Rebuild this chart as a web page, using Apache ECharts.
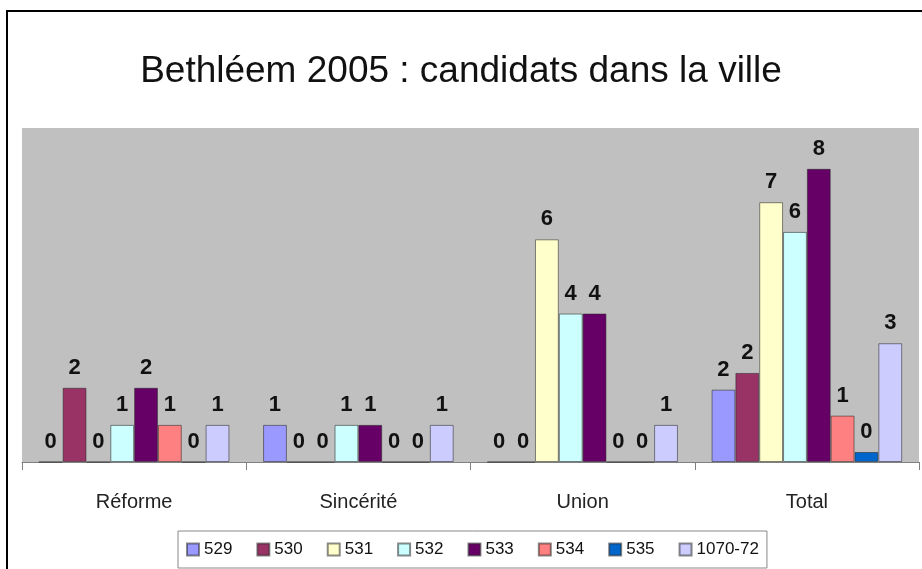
<!DOCTYPE html>
<html>
<head>
<meta charset="utf-8" />
<title>Bethléem 2005 : candidats dans la ville</title>
<style>
    html, body { margin: 0; padding: 0; background: #fff; }
    #frame { position: absolute; left: 6px; top: 10px; width: 930px; height: 580px;
             border-left: 2px solid #000; border-top: 2px solid #000; }
    #main { position: absolute; left: 0; top: 0; width: 922px; height: 569px; }
</style>
<script src="https://cdn.jsdelivr.net/npm/echarts@6/dist/echarts.min.js"></script>
</head>
<body>
<div id="frame"></div>
<div id="main"></div>
<script type="text/javascript">
    // catégories (axe x)
    var categories = ['Réforme', 'Sincérité', 'Union', 'Total'];

    // une série par bureau
    var seriesNames = ['529', '530', '531', '532', '533', '534', '535', '1070-72'];
    var v529 = [0, 1, 0, 1.95];
    var v530 = [2, 0, 0, 2.4];
    var v531 = [0, 0, 6, 7];
    var v532 = [1, 1, 4, 6.2];
    var v533 = [2, 1, 4, 7.9];
    var v534 = [1, 0, 0, 1.25];
    var v535 = [0, 0, 0, 0.27];
    var v1070 = [1, 1, 1, 3.2];
    var seriesValues = [v529, v530, v531, v532, v533, v534, v535, v1070];

    var colors = ['#9999FF', '#993366', '#FFFFCC', '#CCFFFF', '#660066', '#FF8080', '#0066CC', '#CCCCFF'];

    var myChart = echarts.init(document.getElementById('main'));

    var series = [];
    for (var i = 0; i < seriesNames.length; i++) {
        series.push({
            name: seriesNames[i],
            type: 'bar',
            barGap: 0,
            barCategoryGap: '15%',
            data: seriesValues[i],
            itemStyle: { color: colors[i], borderColor: 'rgba(40,40,40,0.55)', borderWidth: 1 },
            label: {
                show: true,
                position: 'top',
                distance: 9,
                color: '#111',
                fontFamily: 'Liberation Sans',
                fontWeight: 'bold',
                fontSize: 22,
                formatter: function (p) { return Math.round(p.value); }
            }
        });
    }

    var option = {
        animation: false,
        backgroundColor: 'transparent',
        color: colors,
        title: {
            text: 'Bethléem 2005 : candidats dans la ville',
            left: 'center',
            top: 48,
            textStyle: { fontFamily: 'Liberation Sans', fontWeight: 'normal', fontSize: 37, color: '#111' }
        },
        legend: {
            data: seriesNames,
            bottom: 1,
            left: 178,
            icon: 'rect',
            itemWidth: 12,
            itemHeight: 12,
            itemGap: 24,
            padding: [10, 8],
            borderColor: '#888',
            borderWidth: 1,
            textStyle: { fontFamily: 'Liberation Sans', fontSize: 17, color: '#111' }
        },
        grid: {
            left: 22,
            right: 3,
            top: 128,
            bottom: 107,
            show: true,
            backgroundColor: '#C0C0C0',
            borderWidth: 0
        },
        xAxis: {
            type: 'category',
            data: categories,
            axisLine: { lineStyle: { color: '#808080', width: 1 } },
            axisTick: { show: true, length: 8, lineStyle: { color: '#808080' } },
            axisLabel: { margin: 30, fontFamily: 'Liberation Sans', fontSize: 20, color: '#222' }
        },
        yAxis: {
            type: 'value',
            min: 0,
            max: 9,
            interval: 1,
            axisLabel: { show: false },
            axisLine: { show: false },
            axisTick: { show: false },
            splitLine: { show: false }
        },
        series: series
    };

    myChart.setOption(option);
</script>
</body>
</html>
